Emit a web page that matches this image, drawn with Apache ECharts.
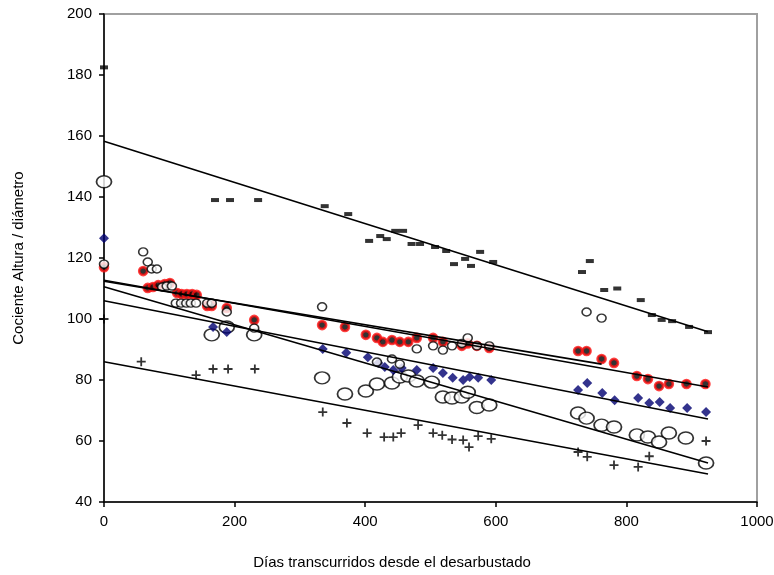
<!DOCTYPE html>
<html>
<head>
<meta charset="utf-8">
<script src="https://cdn.jsdelivr.net/npm/echarts@6/dist/echarts.min.js"></script>
<style>html,body{margin:0;padding:0;background:#fff}#c{width:774px;height:575px}</style>
</head>
<body>
<div id="c"></div>
<script>
// Top series (dash markers)
const dashX = [0, 170, 193, 236, 338, 374, 406, 423, 433, 446, 458, 471, 484, 507, 524, 536, 553, 562, 576, 596, 732, 744, 766, 786, 822, 839, 854, 870, 896, 925];
const dashY = [182.5, 139, 139, 139, 137, 134.4, 125.6, 127.2, 126.2, 128.9, 128.9, 124.6, 124.6, 123.6, 122.3, 118, 119.7, 117.4, 122, 118.7, 115.4, 119, 109.5, 110, 106.2, 101.3, 99.7, 99.3, 97.4, 95.7];
// Red circles
const redX = [0, 60, 67, 75, 83, 93, 101, 112, 119, 127, 135, 142, 158, 165, 188, 230, 334, 369, 401, 418, 427, 441, 453, 466, 479, 504, 519, 548, 557, 571, 590, 726, 739, 762, 781, 816, 833, 850, 865, 892, 921];
const redY = [117, 115.7, 110.2, 110.5, 111.1, 111.5, 111.8, 108.5, 108.2, 108.2, 108.2, 107.9, 104.3, 104.3, 103.6, 99.7, 98, 97.4, 94.8, 93.8, 92.5, 93.1, 92.5, 92.5, 93.8, 93.8, 92.5, 91.2, 92, 91.2, 90.5, 89.5, 89.5, 86.9, 85.6, 81.3, 80.3, 78, 78.7, 78.7, 78.7];
// Small open circles
const scX = [0, 60, 67, 73, 81, 89, 96, 104, 110, 118, 126, 133, 141, 158, 165, 188, 230, 334, 418, 441, 453, 479, 504, 519, 533, 548, 557, 571, 590, 739, 762];
const scY = [118, 122, 118.7, 116.4, 116.4, 110.5, 110.8, 110.8, 105.2, 105.2, 105.2, 105.2, 105.2, 105.2, 105.2, 102.3, 97, 104, 85.9, 86.9, 85.2, 90.2, 91.2, 89.8, 91.2, 92, 93.8, 91.2, 91.2, 102.3, 100.3];
// Navy diamonds
const dX = [0, 167, 188, 335, 371, 404, 420, 430, 443, 456, 479, 504, 519, 534, 550, 560, 573, 593, 726, 740, 763, 782, 818, 835, 851, 867, 893, 922];
const dY = [126.5, 97.4, 95.7, 90.2, 88.9, 87.5, 85.6, 84.3, 83.3, 83.9, 83.3, 83.9, 82.3, 80.7, 80, 81, 80.7, 80, 76.7, 79, 75.7, 73.4, 74.1, 72.5, 72.8, 70.8, 70.8, 69.5];
// Large open circles
const lcX = [0, 165, 188, 230, 334, 369, 401, 418, 441, 453, 466, 479, 502, 519, 533, 548, 557, 571, 590, 726, 739, 762, 781, 816, 833, 850, 865, 891, 922];
const lcY = [145, 94.8, 97.4, 94.8, 80.7, 75.4, 76.4, 78.7, 79, 81, 81.3, 79.7, 79.3, 74.4, 74.1, 74.4, 76, 71, 71.8, 69.2, 67.5, 65.2, 64.6, 62, 61.3, 59.7, 62.6, 61, 52.8];
// Plus markers
const pX = [0, 57, 141, 167, 190, 231, 335, 372, 403, 429, 443, 455, 481, 504, 518, 533, 550, 559, 573, 593, 726, 740, 781, 818, 835, 922];
const pY = [100, 86, 81.6, 83.6, 83.6, 83.6, 69.5, 65.9, 62.6, 61.3, 61.3, 62.6, 65.2, 62.6, 61.9, 60.5, 60.3, 58, 61.6, 60.7, 56.4, 54.8, 52.1, 51.5, 55, 60];
// Trend lines (start/end)
const trendDashX = [0, 925], trendDashY = [158.3, 95.8];
const trendRedX = [0, 925], trendRedY = [112.7, 77.7];
const trendScX = [0, 762], trendScY = [112.4, 85.2];
const trendDX = [0, 925], trendDY = [106, 67.2];
const trendLcX = [0, 925], trendLcY = [110.6, 52.8];
const trendPX = [0, 925], trendPY = [86, 49.2];

const xTicks = [0, 200, 400, 600, 800, 1000];
const yTicks = [40, 60, 80, 100, 120, 140, 160, 180, 200];
const xTitle = 'Días transcurridos desde el desarbustado';
const yTitle = 'Cociente Altura / diámetro';

const zip = (a, b) => a.map((v, i) => [v, b[i]]);
const font = 'Arial, "Liberation Sans", sans-serif';

const chart = echarts.init(document.getElementById('c'), null, {renderer: 'canvas'});
const trend = (xs, ys) => ({
  type: 'line', data: zip(xs, ys), symbol: 'none', silent: true, z: 5,
  lineStyle: {color: '#000', width: 1.6}
});
chart.setOption({
  animation: false,
  backgroundColor: '#fff',
  grid: {left: 104, top: 14, right: 17, bottom: 73, containLabel: false, outerBoundsMode: 'none',
         show: true, borderColor: '#a0a0a0', borderWidth: 2},
  xAxis: {
    type: 'value', min: xTicks[0], max: xTicks[xTicks.length - 1], interval: 200,
    axisLine: {show: true, onZero: false, lineStyle: {color: '#000', width: 1.5}},
    axisTick: {show: true, inside: false, length: 5, lineStyle: {color: '#000', width: 1.5}},
    axisLabel: {color: '#000', fontSize: 15, fontFamily: font, margin: 12, formatter: v => String(v)},
    splitLine: {show: false}
  },
  yAxis: {
    type: 'value', min: yTicks[0], max: yTicks[yTicks.length - 1], interval: 20,
    name: yTitle, nameLocation: 'middle', nameGap: 78,
    nameTextStyle: {color: '#000', fontSize: 15, fontFamily: font},
    axisLine: {show: true, onZero: false, lineStyle: {color: '#000', width: 1.5}},
    axisTick: {show: true, inside: false, length: 5, lineStyle: {color: '#000', width: 1.5}},
    axisLabel: {color: '#000', fontSize: 15, fontFamily: font, margin: 12, formatter: v => String(v)},
    splitLine: {show: false}
  },
  graphic: [{
    type: 'text', x: 392, y: 563,
    style: {text: xTitle, fill: '#000', font: '15px ' + font, textAlign: 'center', textVerticalAlign: 'middle'}
  }],
  series: [
    {type: 'scatter', data: zip(dashX, dashY), symbol: 'rect', symbolSize: [8, 4], itemStyle: {color: '#000'}, z: 3},
    {type: 'scatter', data: zip(lcX, lcY), symbol: 'circle', symbolSize: [15, 12], itemStyle: {color: '#fff', borderColor: '#000', borderWidth: 1.6}, z: 3},
    {type: 'scatter', data: zip(pX, pY), symbol: 'path://M0,3.6H9V5.4H0Z M3.6,0H5.4V9H3.6Z', symbolSize: 9, itemStyle: {color: '#000'}, z: 3},
    {type: 'scatter', data: zip(dX, dY), symbol: 'diamond', symbolSize: [10, 10], itemStyle: {color: '#000070'}, z: 3},
    {type: 'scatter', data: zip(redX, redY), symbol: 'circle', symbolSize: 8, itemStyle: {color: '#000', borderColor: '#ff1010', borderWidth: 2.6}, z: 3},
    {type: 'scatter', data: zip(scX, scY), symbol: 'circle', symbolSize: [9, 8], itemStyle: {color: '#fff', borderColor: '#000', borderWidth: 1.5}, z: 3},
    trend(trendDashX, trendDashY),
    trend(trendRedX, trendRedY),
    trend(trendScX, trendScY),
    trend(trendDX, trendDY),
    trend(trendLcX, trendLcY),
    trend(trendPX, trendPY)
  ]
});
</script>
</body>
</html>
